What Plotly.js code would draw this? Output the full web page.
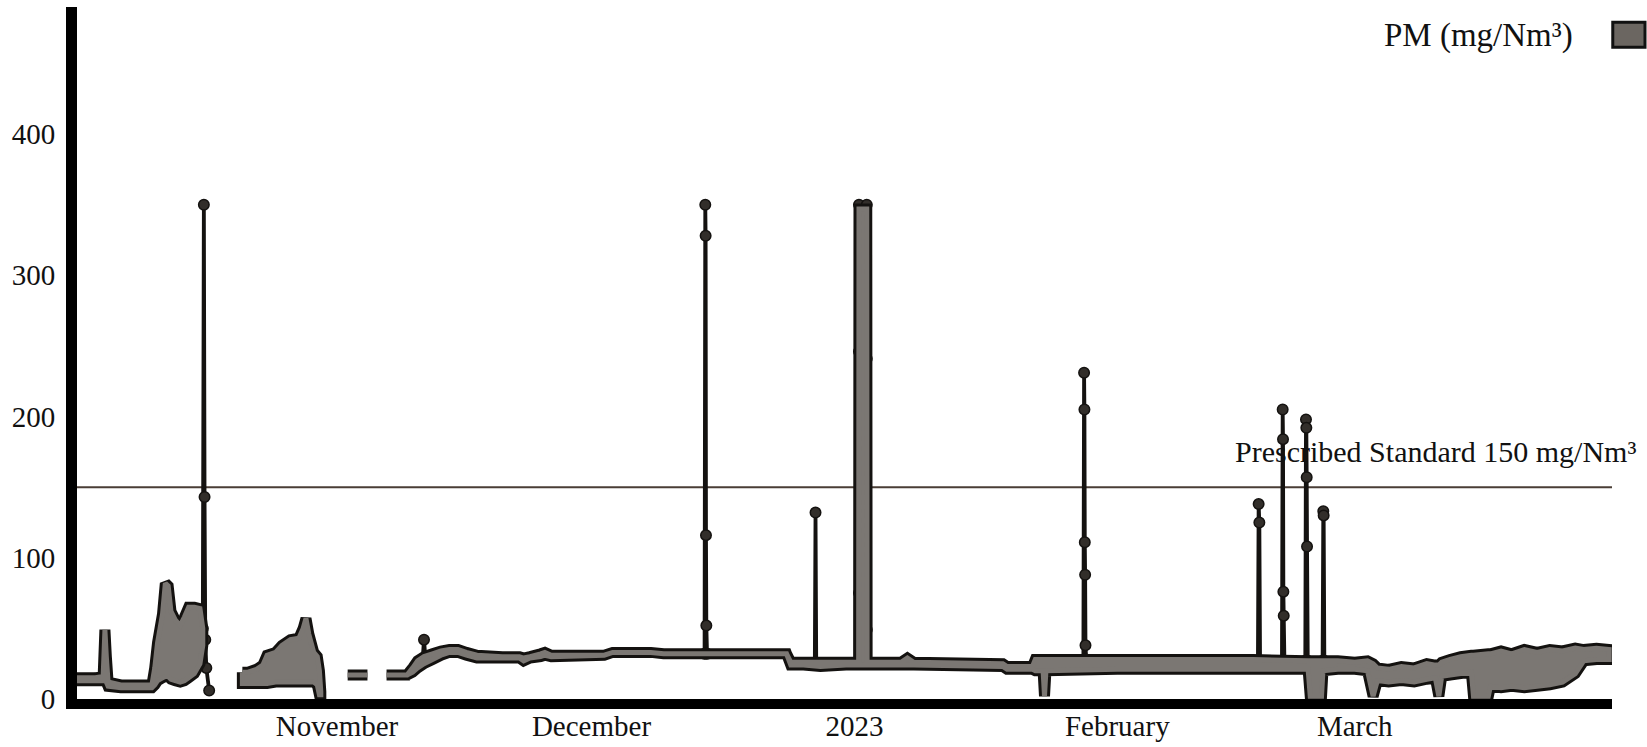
<!DOCTYPE html>
<html>
<head>
<meta charset="utf-8">
<script src="https://cdn.plot.ly/plotly-3.0.1.min.js"></script>
<style>html,body{margin:0;padding:0;background:#fff;}#chart{width:1647px;height:747px;}</style>
</head>
<body>
<div id="chart"></div>
<script>
// ---- Data ----
// PM readings shown as a band: lower and upper envelope of the dense readings (null = data gap)
const envTime = [
  "2022-10-01 08:00","2022-10-03 12:00","2022-10-04 10:00","2022-10-04 15:00","2022-10-04 19:00","2022-10-05 00:00",
  "2022-10-06 12:00","2022-10-08 12:00","2022-10-10 04:00","2022-10-10 12:00","2022-10-10 20:00","2022-10-11 10:00",
  "2022-10-11 18:00","2022-10-12 02:00","2022-10-12 10:00","2022-10-12 22:00","2022-10-13 12:00","2022-10-14 00:00",
  "2022-10-14 12:00","2022-10-15 04:00","2022-10-15 20:00","2022-10-16 04:00",
  null,
  "2022-10-20 20:00","2022-10-21 12:00","2022-10-22 12:00","2022-10-23 06:00","2022-10-23 18:00","2022-10-24 18:00",
  "2022-10-25 12:00","2022-10-26 12:00","2022-10-27 12:00","2022-10-28 00:00","2022-10-28 08:00","2022-10-28 16:00",
  "2022-10-29 06:00","2022-10-29 16:00","2022-10-29 22:00","2022-10-30 02:00",
  null,
  "2022-11-02 06:00","2022-11-04 14:00",
  null,
  "2022-11-06 20:00","2022-11-09 06:00","2022-11-09 22:00","2022-11-10 12:00","2022-11-11 06:00","2022-11-12 06:00",
  "2022-11-13 06:00","2022-11-14 06:00","2022-11-15 06:00","2022-11-16 06:00","2022-11-17 12:00","2022-11-20 12:00",
  "2022-11-22 12:00","2022-11-23 00:00","2022-11-23 18:00","2022-11-25 00:00","2022-11-25 12:00","2022-11-26 06:00",
  "2022-12-02 12:00","2022-12-03 12:00","2022-12-08 00:00","2022-12-09 12:00","2022-12-24 00:00","2022-12-24 12:00",
  "2022-12-26 00:00","2022-12-28 00:00","2022-12-31 00:00","2023-01-01 12:00","2023-01-01 13:00","2023-01-02 11:00",
  "2023-01-02 12:00","2023-01-04 00:00","2023-01-06 12:00","2023-01-07 06:00","2023-01-08 00:00","2023-01-18 12:00",
  "2023-01-19 00:00","2023-01-22 00:00","2023-01-22 08:00","2023-01-23 06:00","2023-01-23 10:00","2023-01-23 14:00",
  "2023-02-01 00:00","2023-02-10 00:00","2023-02-17 00:00","2023-02-23 12:00","2023-02-23 18:00","2023-02-25 02:00",
  "2023-02-25 06:00","2023-02-27 00:00","2023-03-01 00:00","2023-03-02 12:00","2023-03-03 04:00","2023-03-03 16:00",
  "2023-03-05 00:00","2023-03-06 12:00","2023-03-08 00:00","2023-03-09 12:00","2023-03-10 12:00","2023-03-10 22:00",
  "2023-03-11 06:00","2023-03-12 06:00","2023-03-13 12:00","2023-03-14 18:00","2023-03-15 00:00","2023-03-16 18:00",
  "2023-03-17 00:00","2023-03-18 06:00","2023-03-19 12:00","2023-03-21 00:00","2023-03-22 12:00","2023-03-24 00:00",
  "2023-03-25 12:00","2023-03-27 00:00","2023-03-28 00:00","2023-03-29 12:00","2023-03-31 00:00"
];
const envLow = [
  13,13,13,14,12,9, 8,8,8,10,13,15, 16,16,14,13,12,13, 15,18,25,38,
  null,
  11,11,11,11,11,12, 12,12,12,12,12,12, 12,10,3,3,
  null,
  17,17,
  null,
  17,17,19,22,25,28, 31,33,33,31,29,29, 29,27,29,30,31,30, 31,33,33,32,32,24,
  24,23,24,24,24,24, 24,24,24,24,24,23, 21,21,20,20,2,20,
  21,21,21,21,2,2, 20,21,21,20,2,13, 12,13,12,14,15,2, 16,17,18,19,2,2,
  9,8,9,8,9,10, 12,18,27,28,28
];
const envHigh = [
  15,15,16,49,30,12, 10,10,10,22,40,60, 82,80,62,56,52,58, 65,65,64,50,
  null,
  19,19,21,24,31,33, 38,42,43,50,57,46, 33,30,20,5,
  null,
  17,17,
  null,
  17,17,22,27,30,32, 34,35,35,33,31,30, 30,29,30,32,33,31, 31,33,33,32,32,26,
  26,26,26,26,347,347, 26,26,26,29,26,25, 23,23,28,28,28,28,
  28,28,28,27,27,27, 27,27,26,27,25,22, 21,23,22,25,24,24, 26,28,30,31,31,32,
  32,34,32,35,33,35, 34,36,35,36,35
];

// Isolated excursions (thin line with a dot on every reading)
const spikeTimes = [
  ["2022-10-16 04:00","2022-10-16 07:00","2022-10-16 09:00","2022-10-16 11:00","2022-10-16 14:00","2022-10-16 22:00"],
  ["2022-11-11 02:00","2022-11-11 06:00","2022-11-11 10:00"],
  ["2022-12-14 08:00","2022-12-14 10:00","2022-12-14 11:00","2022-12-14 12:00","2022-12-14 13:00","2022-12-14 15:00"],
  ["2022-12-27 08:00","2022-12-27 10:00","2022-12-27 12:00"],
  ["2023-01-01 13:00","2023-01-01 13:00","2023-01-01 13:00","2023-01-01 13:00"],
  ["2023-01-02 11:00","2023-01-02 11:00","2023-01-02 11:00","2023-01-02 11:00"],
  ["2023-01-28 00:00","2023-01-28 02:00","2023-01-28 03:00","2023-01-28 04:00","2023-01-28 05:00","2023-01-28 06:00","2023-01-28 08:00"],
  ["2023-02-17 14:00","2023-02-17 16:00","2023-02-17 18:00","2023-02-17 20:00"],
  ["2023-02-20 10:00","2023-02-20 12:00","2023-02-20 13:00","2023-02-20 14:00","2023-02-20 15:00","2023-02-20 17:00"],
  ["2023-02-23 04:00","2023-02-23 06:00","2023-02-23 07:00","2023-02-23 08:00","2023-02-23 09:00","2023-02-23 11:00"],
  ["2023-02-25 05:00","2023-02-25 07:00","2023-02-25 08:00","2023-02-25 10:00"]
];
const spikeValues = [
  [50,350,143,42,22,6],
  [27,42,29],
  [32,350,328,116,52,32],
  [25,132,25],
  [25,350,246,75],
  [25,350,241,49],
  [27,231,205,111,88,38,28],
  [27,138,125,27],
  [27,205,184,76,59,27],
  [27,198,192,157,108,27],
  [27,133,130,27]
];

const standardValue = 150;
const standardLabel = "Prescribed Standard 150 mg/Nm³";
const seriesName = "PM (mg/Nm³)";
const monthTicks = ["2022-11-01","2022-12-01","2023-01-01","2023-02-01","2023-03-01"];
const monthLabels = ["November","December","2023","February","March"];
const yTicks = [0,100,200,300,400];

// ---- Build band polygons from the envelope arrays ----
const polyX = [], polyY = [];
let seg = [];
function flush() {
  if (!seg.length) return;
  const xs = [], ys = [];
  seg.forEach(i => { xs.push(envTime[i]); ys.push(envHigh[i]); });
  for (let k = seg.length - 1; k >= 0; k--) { xs.push(envTime[seg[k]]); ys.push(envLow[seg[k]]); }
  xs.push(xs[0]); ys.push(ys[0]);
  if (polyX.length) { polyX.push(null); polyY.push(null); }
  polyX.push(...xs); polyY.push(...ys);
  seg = [];
}
envTime.forEach((t, i) => { if (t === null) flush(); else seg.push(i); });
flush();

const INK = '#141210';
const GREY = '#7b7773';
const FONT = 'Liberation Serif, Times New Roman, serif';

const traces = [];
spikeTimes.forEach((ts, j) => {
  traces.push({
    type: 'scatter', mode: 'lines+markers', x: ts, y: spikeValues[j],
    line: {color: INK, width: 3.8, simplify: false},
    marker: {size: 10.5, color: '#322e2a', line: {color: INK, width: 1.5}},
    showlegend: false, hoverinfo: 'skip'
  });
});
traces.push({
  type: 'scatter', mode: 'lines', x: polyX, y: polyY,
  line: {color: INK, width: 11, simplify: false},
  showlegend: false, hoverinfo: 'skip'
});
traces.push({
  type: 'scatter', mode: 'lines', x: polyX, y: polyY, fill: 'toself', fillcolor: GREY,
  line: {color: GREY, width: 5, simplify: false},
  showlegend: false, hoverinfo: 'skip'
});

const layout = {
  width: 1647, height: 747,
  margin: {l: 77, r: 35, t: 7, b: 48},
  paper_bgcolor: '#fff', plot_bgcolor: '#fff',
  font: {family: FONT, size: 29, color: '#111'},
  showlegend: false,
  xaxis: {
    type: 'date', range: ["2022-10-01 08:00", "2023-03-31 08:00"],
    tickmode: 'array', tickvals: monthTicks, ticktext: monthLabels,
    showline: true, linewidth: 10, linecolor: '#000', ticks: '',
    showgrid: false, zeroline: false, ticklabelstandoff: -8,
    tickfont: {family: FONT, size: 29, color: '#111'}
  },
  yaxis: {
    range: [0, 490], tickmode: 'array', tickvals: yTicks,
    showline: true, linewidth: 11, linecolor: '#000', ticks: '',
    showgrid: false, zeroline: false, ticklabelstandoff: 5,
    tickfont: {family: FONT, size: 29, color: '#111'}
  },
  shapes: [
    {type: 'line', xref: 'paper', x0: 0, x1: 1, yref: 'y', y0: standardValue, y1: standardValue,
     line: {color: '#4a3e36', width: 2}, layer: 'below'},
    {type: 'rect', xref: 'paper', yref: 'paper', x0: 1.0005, x1: 1.0215, y0: 0.942, y1: 0.978,
     fillcolor: '#6b6661', line: {color: '#111', width: 3}}
  ],
  annotations: [
    {xref: 'paper', yref: 'y', x: 1.017, y: 175, xanchor: 'right', yanchor: 'middle',
     text: standardLabel, showarrow: false, font: {family: FONT, size: 30, color: '#111'}},
    {xref: 'paper', yref: 'paper', x: 0.976, y: 0.9595, xanchor: 'right', yanchor: 'middle',
     text: seriesName, showarrow: false, font: {family: FONT, size: 33, color: '#111'}}
  ]
};

Plotly.newPlot('chart', traces, layout, {staticPlot: true, displayModeBar: false});
</script>
</body>
</html>
